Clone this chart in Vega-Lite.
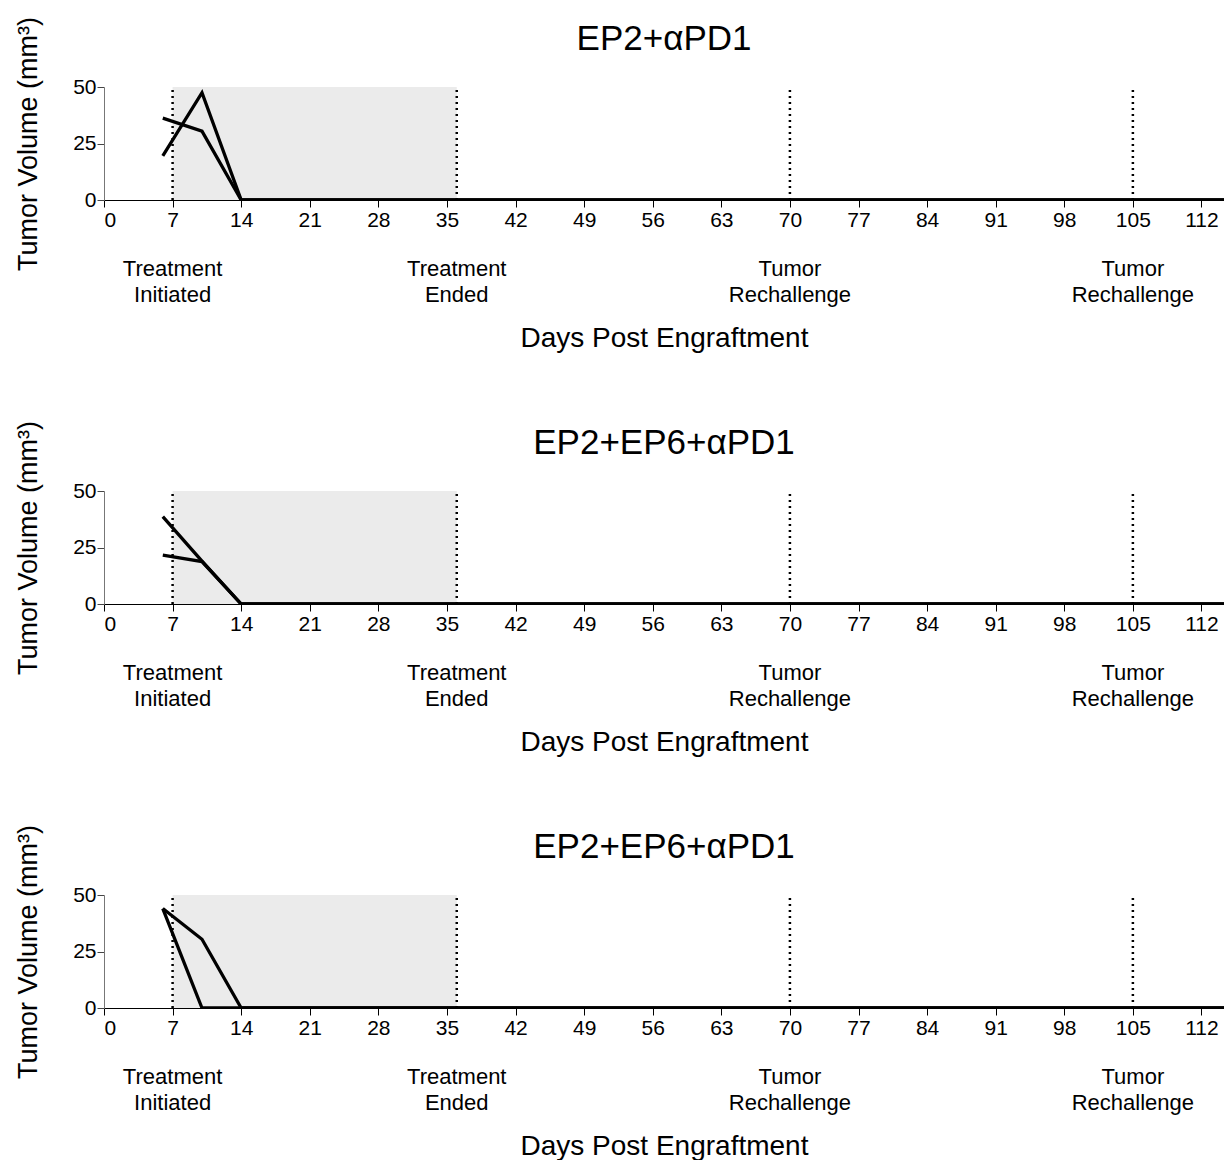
{
  "$schema": "https://vega.github.io/schema/vega-lite/v6.json",
  "padding": {"left": 14, "top": 16, "right": 0, "bottom": 0},
  "background": "white",
  "spacing": 68,
  "config": {
    "font": "Liberation Sans",
    "view": {"stroke": null},
    "title": {"font": "Liberation Sans", "fontSize": 35, "fontWeight": "normal", "color": "black", "offset": -41, "frame": "group", "anchor": "middle"},
    "axis": {"labelFont": "Liberation Sans", "titleFont": "Liberation Sans", "titleFontWeight": "normal", "labelColor": "black", "titleColor": "black", "grid": false}
  },
  "datasets": {
    "tumor": [
      {"panel": 1, "mouse": "a", "day": 6, "volume": 19.5},
      {"panel": 1, "mouse": "a", "day": 10, "volume": 47.5},
      {"panel": 1, "mouse": "a", "day": 14, "volume": 0},
      {"panel": 1, "mouse": "a", "day": 115, "volume": 0},
      {"panel": 1, "mouse": "b", "day": 6, "volume": 36.2},
      {"panel": 1, "mouse": "b", "day": 10, "volume": 30.5},
      {"panel": 1, "mouse": "b", "day": 14, "volume": 0},
      {"panel": 1, "mouse": "b", "day": 115, "volume": 0},
      {"panel": 2, "mouse": "a", "day": 6, "volume": 38.7},
      {"panel": 2, "mouse": "a", "day": 10, "volume": 19},
      {"panel": 2, "mouse": "a", "day": 14, "volume": 0},
      {"panel": 2, "mouse": "a", "day": 115, "volume": 0},
      {"panel": 2, "mouse": "b", "day": 6, "volume": 21.6},
      {"panel": 2, "mouse": "b", "day": 10, "volume": 18.8},
      {"panel": 2, "mouse": "b", "day": 14, "volume": 0},
      {"panel": 2, "mouse": "b", "day": 115, "volume": 0},
      {"panel": 3, "mouse": "a", "day": 6, "volume": 44},
      {"panel": 3, "mouse": "a", "day": 10, "volume": 30.4},
      {"panel": 3, "mouse": "a", "day": 14, "volume": 0},
      {"panel": 3, "mouse": "a", "day": 115, "volume": 0},
      {"panel": 3, "mouse": "b", "day": 6, "volume": 44},
      {"panel": 3, "mouse": "b", "day": 10, "volume": 0},
      {"panel": 3, "mouse": "b", "day": 115, "volume": 0}
    ],
    "events": [
      {"day": 7, "label": "Treatment\nInitiated"},
      {"day": 36, "label": "Treatment\nEnded"},
      {"day": 70, "label": "Tumor\nRechallenge"},
      {"day": 105, "label": "Tumor\nRechallenge"}
    ],
    "shade": [
      {"start": 7, "end": 36}
    ]
  },
  "vconcat": [
    {
      "width": 1120,
      "height": 113,
      "title": {"text": "EP2+αPD1"},
      "layer": [
        {
          "data": {"name": "shade"},
          "mark": {"type": "rect", "color": "#ebebeb"},
          "encoding": {
            "x": {"field": "start", "type": "quantitative", "scale": {"domain": [0, 114.3], "nice": false, "zero": false},
              "axis": {"values": [0, 7, 14, 21, 28, 35, 42, 49, 56, 63, 70, 77, 84, 91, 98, 105, 112], "title": "Days Post Engraftment", "titleFontSize": 28, "titlePadding": 94, "labelFontSize": 21, "tickSize": 7, "tickColor": "black", "domainColor": "black", "labelPadding": 2}},
            "x2": {"field": "end"},
            "y": {"datum": 0, "type": "quantitative", "scale": {"domain": [0, 50], "nice": false},
              "axis": {"values": [0, 25, 50], "title": "Tumor Volume (mm³)", "titleFontSize": 27, "titlePadding": 30, "labelFontSize": 21, "tickSize": 7, "tickColor": "#444", "domainColor": "#777", "labelPadding": 1}},
            "y2": {"datum": 50}
          }
        },
        {
          "data": {"name": "events"},
          "mark": {"type": "rule", "color": "black", "strokeDash": [2, 4], "strokeWidth": 2.5},
          "encoding": {
            "x": {"field": "day", "type": "quantitative"},
            "y": {"datum": 0, "type": "quantitative"},
            "y2": {"datum": 50}
          }
        },
        {
          "data": {"name": "tumor"},
          "transform": [{"filter": "datum.panel === 1"}],
          "mark": {"type": "line", "color": "black", "strokeWidth": 3.3, "clip": true},
          "encoding": {
            "x": {"field": "day", "type": "quantitative"},
            "y": {"field": "volume", "type": "quantitative"},
            "detail": {"field": "mouse"}
          }
        },
        {
          "data": {"name": "events"},
          "mark": {"type": "text", "baseline": "alphabetic", "lineBreak": "\n", "fontSize": 22, "lineHeight": 26, "color": "black"},
          "encoding": {
            "x": {"field": "day", "type": "quantitative"},
            "y": {"datum": -33.5, "type": "quantitative"},
            "text": {"field": "label"}
          }
        }
      ]
    },
    {
      "width": 1120,
      "height": 113,
      "title": {"text": "EP2+EP6+αPD1"},
      "layer": [
        {
          "data": {"name": "shade"},
          "mark": {"type": "rect", "color": "#ebebeb"},
          "encoding": {
            "x": {"field": "start", "type": "quantitative", "scale": {"domain": [0, 114.3], "nice": false, "zero": false},
              "axis": {"values": [0, 7, 14, 21, 28, 35, 42, 49, 56, 63, 70, 77, 84, 91, 98, 105, 112], "title": "Days Post Engraftment", "titleFontSize": 28, "titlePadding": 94, "labelFontSize": 21, "tickSize": 7, "tickColor": "black", "domainColor": "black", "labelPadding": 2}},
            "x2": {"field": "end"},
            "y": {"datum": 0, "type": "quantitative", "scale": {"domain": [0, 50], "nice": false},
              "axis": {"values": [0, 25, 50], "title": "Tumor Volume (mm³)", "titleFontSize": 27, "titlePadding": 30, "labelFontSize": 21, "tickSize": 7, "tickColor": "#444", "domainColor": "#777", "labelPadding": 1}},
            "y2": {"datum": 50}
          }
        },
        {
          "data": {"name": "events"},
          "mark": {"type": "rule", "color": "black", "strokeDash": [2, 4], "strokeWidth": 2.5},
          "encoding": {
            "x": {"field": "day", "type": "quantitative"},
            "y": {"datum": 0, "type": "quantitative"},
            "y2": {"datum": 50}
          }
        },
        {
          "data": {"name": "tumor"},
          "transform": [{"filter": "datum.panel === 2"}],
          "mark": {"type": "line", "color": "black", "strokeWidth": 3.3, "clip": true},
          "encoding": {
            "x": {"field": "day", "type": "quantitative"},
            "y": {"field": "volume", "type": "quantitative"},
            "detail": {"field": "mouse"}
          }
        },
        {
          "data": {"name": "events"},
          "mark": {"type": "text", "baseline": "alphabetic", "lineBreak": "\n", "fontSize": 22, "lineHeight": 26, "color": "black"},
          "encoding": {
            "x": {"field": "day", "type": "quantitative"},
            "y": {"datum": -33.5, "type": "quantitative"},
            "text": {"field": "label"}
          }
        }
      ]
    },
    {
      "width": 1120,
      "height": 113,
      "title": {"text": "EP2+EP6+αPD1"},
      "layer": [
        {
          "data": {"name": "shade"},
          "mark": {"type": "rect", "color": "#ebebeb"},
          "encoding": {
            "x": {"field": "start", "type": "quantitative", "scale": {"domain": [0, 114.3], "nice": false, "zero": false},
              "axis": {"values": [0, 7, 14, 21, 28, 35, 42, 49, 56, 63, 70, 77, 84, 91, 98, 105, 112], "title": "Days Post Engraftment", "titleFontSize": 28, "titlePadding": 94, "labelFontSize": 21, "tickSize": 7, "tickColor": "black", "domainColor": "black", "labelPadding": 2}},
            "x2": {"field": "end"},
            "y": {"datum": 0, "type": "quantitative", "scale": {"domain": [0, 50], "nice": false},
              "axis": {"values": [0, 25, 50], "title": "Tumor Volume (mm³)", "titleFontSize": 27, "titlePadding": 30, "labelFontSize": 21, "tickSize": 7, "tickColor": "#444", "domainColor": "#777", "labelPadding": 1}},
            "y2": {"datum": 50}
          }
        },
        {
          "data": {"name": "events"},
          "mark": {"type": "rule", "color": "black", "strokeDash": [2, 4], "strokeWidth": 2.5},
          "encoding": {
            "x": {"field": "day", "type": "quantitative"},
            "y": {"datum": 0, "type": "quantitative"},
            "y2": {"datum": 50}
          }
        },
        {
          "data": {"name": "tumor"},
          "transform": [{"filter": "datum.panel === 3"}],
          "mark": {"type": "line", "color": "black", "strokeWidth": 3.3, "clip": true},
          "encoding": {
            "x": {"field": "day", "type": "quantitative"},
            "y": {"field": "volume", "type": "quantitative"},
            "detail": {"field": "mouse"}
          }
        },
        {
          "data": {"name": "events"},
          "mark": {"type": "text", "baseline": "alphabetic", "lineBreak": "\n", "fontSize": 22, "lineHeight": 26, "color": "black"},
          "encoding": {
            "x": {"field": "day", "type": "quantitative"},
            "y": {"datum": -33.5, "type": "quantitative"},
            "text": {"field": "label"}
          }
        }
      ]
    }
  ]
}
